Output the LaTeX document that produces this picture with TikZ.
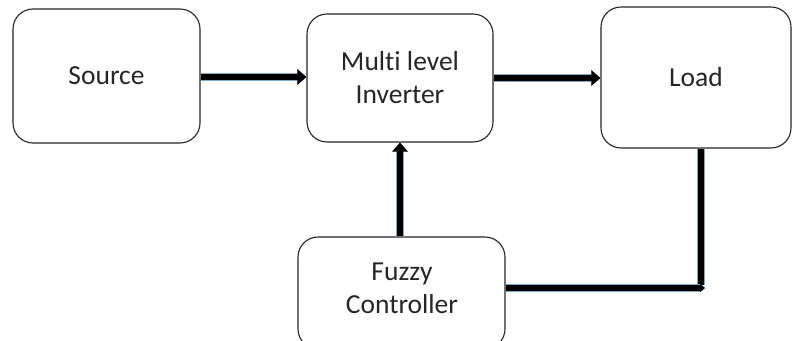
\documentclass[tikz,border=0pt]{standalone}
\usepackage{fontspec}
\setmainfont[Ligatures=NoCommon]{Carlito}
\usetikzlibrary{arrows.meta}
\definecolor{edgeblue}{HTML}{7FA7D3}
\begin{document}
\begin{tikzpicture}[x=1pt,y=-1pt,
  txt/.style={font=\fontsize{27.5}{33}\selectfont,text=black!85,align=center},
  blk/.style={txt,draw=black!85,line width=1.1pt,rounded corners=20pt,fill=white,inner sep=0pt},
  conn/.style={line width=6pt,black,
    preaction={draw,edgeblue,line width=7.5pt}},
  tip/.style={-{Triangle[length=9pt,width=15pt]}}]
\useasboundingbox (0,0) rectangle (792,340);
\node[blk,minimum width=187pt,minimum height=134pt] (source) at (106.5,76) {Source};
\node[blk,minimum width=186pt,minimum height=128pt] (inv) at (400,78) {Multi level\\Inverter};
\node[blk,minimum width=190pt,minimum height=141pt] (load) at (696,77.5) {Load};
\node[blk,minimum width=207pt,minimum height=112pt] (fuzzy) at (401.5,293) {};
\node[txt] (ftext) at (402,288) {Fuzzy\\Controller};
\coordinate (corner) at (701,288);
\draw[conn,tip] ([yshift=-1pt]source.east) -- ([yshift=-1pt]source.east -| inv.west);
\draw[conn,tip] (inv.east) -- (inv.east -| load.west);
\draw[conn,tip] (fuzzy.north -| inv.south) -- (inv.south);
\draw[conn] (load.south -| corner) -- ([yshift=3pt]corner);
\draw[conn,-{Triangle[length=5pt,width=8pt]}] (fuzzy.east |- corner) -- ([xshift=4pt]corner);
\end{tikzpicture}
\end{document}
